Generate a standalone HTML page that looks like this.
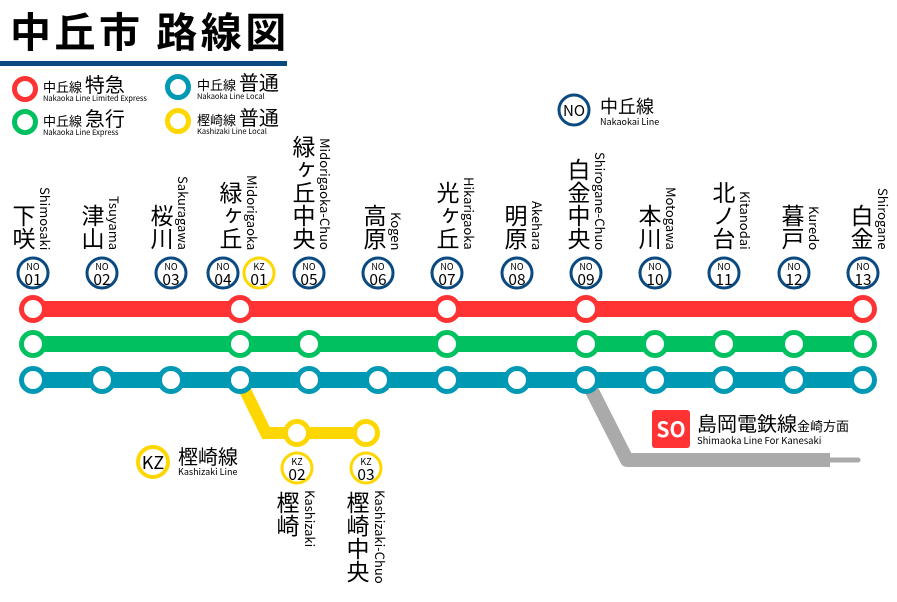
<!DOCTYPE html>
<html><head><meta charset="utf-8"><style>
body{margin:0;width:897px;height:602px;overflow:hidden;background:#fff;position:relative;font-family:"Liberation Sans","Noto Sans CJK JP",sans-serif}
.k{position:absolute;writing-mode:vertical-rl;font-family:"Noto Sans CJK JP",sans-serif;font-size:23px;line-height:24px;color:#000;white-space:nowrap}
.r{position:absolute;writing-mode:vertical-rl;font-family:"Noto Sans CJK JP",sans-serif;font-size:13px;line-height:14px;color:#000;white-space:nowrap}
svg{position:absolute;left:0;top:0}
svg text{font-family:"Noto Sans CJK JP",sans-serif}
</style></head><body>
<svg width="897" height="602" viewBox="0 0 897 602">
<text x="10" y="47" font-size="41" font-weight="bold" letter-spacing="3.5" fill="#000">中丘市 路線図</text>
<rect x="0" y="61" width="287" height="5" fill="#0b4a80"/>
<!-- legend -->
<g fill="#fff" stroke-width="5">
<circle cx="25" cy="89" r="10.5" stroke="#ff3333"/>
<circle cx="25" cy="122" r="10.5" stroke="#00c060"/>
<circle cx="178" cy="87" r="10.5" stroke="#0099b3"/>
<circle cx="178" cy="121" r="10.5" stroke="#ffd700"/>
</g>
<g fill="#000">
<text x="43" y="92" font-size="13">中丘線 <tspan font-size="20">特急</tspan></text>
<text x="43" y="101" font-size="7.5">Nakaoka Line Limited Express</text>
<text x="43" y="126" font-size="13">中丘線 <tspan font-size="20">急行</tspan></text>
<text x="43" y="135" font-size="7.5">Nakaoka Line Express</text>
<text x="197" y="90" font-size="13">中丘線 <tspan font-size="20">普通</tspan></text>
<text x="197" y="99" font-size="7.5">Nakaoka Line Local</text>
<text x="197" y="125" font-size="13">樫崎線 <tspan font-size="20">普通</tspan></text>
<text x="197" y="134" font-size="7.5">Kashizaki Line Local</text>
</g>
<circle cx="574" cy="110" r="15" fill="#fff" stroke="#0b4a80" stroke-width="3"/>
<text x="574" y="116" font-size="15" text-anchor="middle" fill="#000">NO</text>
<text x="600" y="113" font-size="18" fill="#000">中丘線</text>
<text x="600" y="125" font-size="9" fill="#000">Nakaokai Line</text>
<!-- grey line -->
<polyline points="588,383 627,460 830,460" fill="none" stroke="#aaa" stroke-width="14" stroke-linejoin="round"/>
<line x1="830" y1="460" x2="858" y2="460" stroke="#aaa" stroke-width="5" stroke-linecap="round"/>
<!-- yellow -->
<polyline points="240,380 266,433 366,433" fill="none" stroke="#ffd700" stroke-width="12"/>
<!-- main lines -->
<line x1="33" y1="309" x2="863" y2="309" stroke="#ff3333" stroke-width="16"/>
<line x1="33" y1="344" x2="863" y2="344" stroke="#00c060" stroke-width="16"/>
<line x1="33" y1="380" x2="863" y2="380" stroke="#0099b3" stroke-width="16"/>
<g fill="#fff" stroke-width="5">
<g stroke="#ff3333">
<circle cx="33" cy="309" r="11.5"/><circle cx="240" cy="309" r="11.5"/><circle cx="447" cy="309" r="11.5"/><circle cx="586" cy="309" r="11.5"/><circle cx="863" cy="309" r="11.5"/>
</g>
<g stroke="#00c060">
<circle cx="33" cy="344" r="11.5"/><circle cx="240" cy="344" r="11.5"/><circle cx="309" cy="344" r="11.5"/><circle cx="447" cy="344" r="11.5"/><circle cx="586" cy="344" r="11.5"/><circle cx="655" cy="344" r="11.5"/><circle cx="724" cy="344" r="11.5"/><circle cx="794" cy="344" r="11.5"/><circle cx="863" cy="344" r="11.5"/>
</g>
<g stroke="#0099b3">
<circle cx="33" cy="380" r="11.5"/><circle cx="102" cy="380" r="11.5"/><circle cx="171" cy="380" r="11.5"/><circle cx="240" cy="380" r="11.5"/><circle cx="309" cy="380" r="11.5"/><circle cx="378" cy="380" r="11.5"/><circle cx="447" cy="380" r="11.5"/><circle cx="517" cy="380" r="11.5"/><circle cx="586" cy="380" r="11.5"/><circle cx="655" cy="380" r="11.5"/><circle cx="724" cy="380" r="11.5"/><circle cx="794" cy="380" r="11.5"/><circle cx="863" cy="380" r="11.5"/>
</g>
<g stroke="#ffd700">
<circle cx="297" cy="433" r="11.5"/><circle cx="366" cy="433" r="11.5"/>
</g>
</g>
<!-- badges -->
<g fill="#fff" stroke-width="3">
<g stroke="#0b4a80">
<circle cx="33" cy="273" r="15"/><circle cx="102" cy="273" r="15"/><circle cx="171" cy="273" r="15"/><circle cx="223" cy="273" r="15"/><circle cx="309" cy="273" r="15"/><circle cx="378" cy="273" r="15"/><circle cx="447" cy="273" r="15"/><circle cx="517" cy="273" r="15"/><circle cx="586" cy="273" r="15"/><circle cx="655" cy="273" r="15"/><circle cx="724" cy="273" r="15"/><circle cx="794" cy="273" r="15"/><circle cx="863" cy="273" r="15"/>
</g>
<g stroke="#ffd700">
<circle cx="259" cy="273" r="15"/><circle cx="297" cy="468" r="15"/><circle cx="366" cy="468" r="15"/>
</g>
</g>
<g fill="#000" text-anchor="middle" font-size="9">
<text x="33" y="270">NO</text><text x="102" y="270">NO</text><text x="171" y="270">NO</text><text x="223" y="270">NO</text><text x="259" y="270">KZ</text><text x="309" y="270">NO</text><text x="378" y="270">NO</text><text x="447" y="270">NO</text><text x="517" y="270">NO</text><text x="586" y="270">NO</text><text x="655" y="270">NO</text><text x="724" y="270">NO</text><text x="794" y="270">NO</text><text x="863" y="270">NO</text>
<text x="297" y="465">KZ</text><text x="366" y="465">KZ</text>
</g>
<g fill="#000" text-anchor="middle" font-size="15.5">
<text x="33" y="285">01</text><text x="102" y="285">02</text><text x="171" y="285">03</text><text x="223" y="285">04</text><text x="259" y="285">01</text><text x="309" y="285">05</text><text x="378" y="285">06</text><text x="447" y="285">07</text><text x="517" y="285">08</text><text x="586" y="285">09</text><text x="655" y="285">10</text><text x="724" y="285">11</text><text x="794" y="285">12</text><text x="863" y="285">13</text>
<text x="297" y="480">02</text><text x="366" y="480">03</text>
</g>
<!-- KZ legend -->
<circle cx="153" cy="462" r="15" fill="#fff" stroke="#ffd700" stroke-width="4"/>
<text x="153" y="469" font-size="18" text-anchor="middle" fill="#000">KZ</text>
<text x="178" y="464" font-size="20" fill="#000">樫崎線</text>
<text x="178" y="475" font-size="9" fill="#000">Kashizaki Line</text>
<!-- SO -->
<rect x="652" y="410" width="38" height="38" rx="3" fill="#ff3333"/>
<text x="671" y="437" font-size="21" font-weight="bold" text-anchor="middle" fill="#fff">SO</text>
<text x="697" y="431" font-size="20" fill="#000">島岡電鉄線<tspan font-size="13">金崎方面</tspan></text>
<text x="697" y="444" font-size="9.5" fill="#000">Shimaoka Line For Kanesaki</text>
</svg>
<!-- names -->
<div class="k" style="left:12px;bottom:352px">下咲</div><div class="r" style="left:38px;bottom:352px">Shimosaki</div>
<div class="k" style="left:81px;bottom:352px">津山</div><div class="r" style="left:107px;bottom:352px">Tsuyama</div>
<div class="k" style="left:150px;bottom:352px">桜川</div><div class="r" style="left:176px;bottom:352px">Sakuragawa</div>
<div class="k" style="left:219px;bottom:352px">緑ヶ丘</div><div class="r" style="left:245px;bottom:352px">Midorigaoka</div>
<div class="k" style="left:292px;bottom:352px">緑ヶ丘中央</div><div class="r" style="left:318px;bottom:352px">Midorigaoka-Chuo</div>
<div class="k" style="left:363px;bottom:352px">高原</div><div class="r" style="left:389px;bottom:352px">Kogen</div>
<div class="k" style="left:436px;bottom:352px">光ヶ丘</div><div class="r" style="left:462px;bottom:352px">Hikarigaoka</div>
<div class="k" style="left:504px;bottom:352px">明原</div><div class="r" style="left:530px;bottom:352px">Akehara</div>
<div class="k" style="left:567px;bottom:352px">白金中央</div><div class="r" style="left:593px;bottom:352px">Shirogane-Chuo</div>
<div class="k" style="left:638px;bottom:352px">本川</div><div class="r" style="left:664px;bottom:352px">Motogawa</div>
<div class="k" style="left:712px;bottom:352px">北ノ台</div><div class="r" style="left:738px;bottom:352px">Kitanodai</div>
<div class="k" style="left:781px;bottom:352px">暮戸</div><div class="r" style="left:807px;bottom:352px">Kuredo</div>
<div class="k" style="left:850px;bottom:352px">白金</div><div class="r" style="left:876px;bottom:352px">Shirogane</div>
<div class="k" style="left:276px;top:491px">樫崎</div><div class="r" style="left:303px;top:490px">Kashizaki</div>
<div class="k" style="left:346px;top:491px">樫崎中央</div><div class="r" style="left:373px;top:490px">Kashizaki-Chuo</div>
</body></html>
